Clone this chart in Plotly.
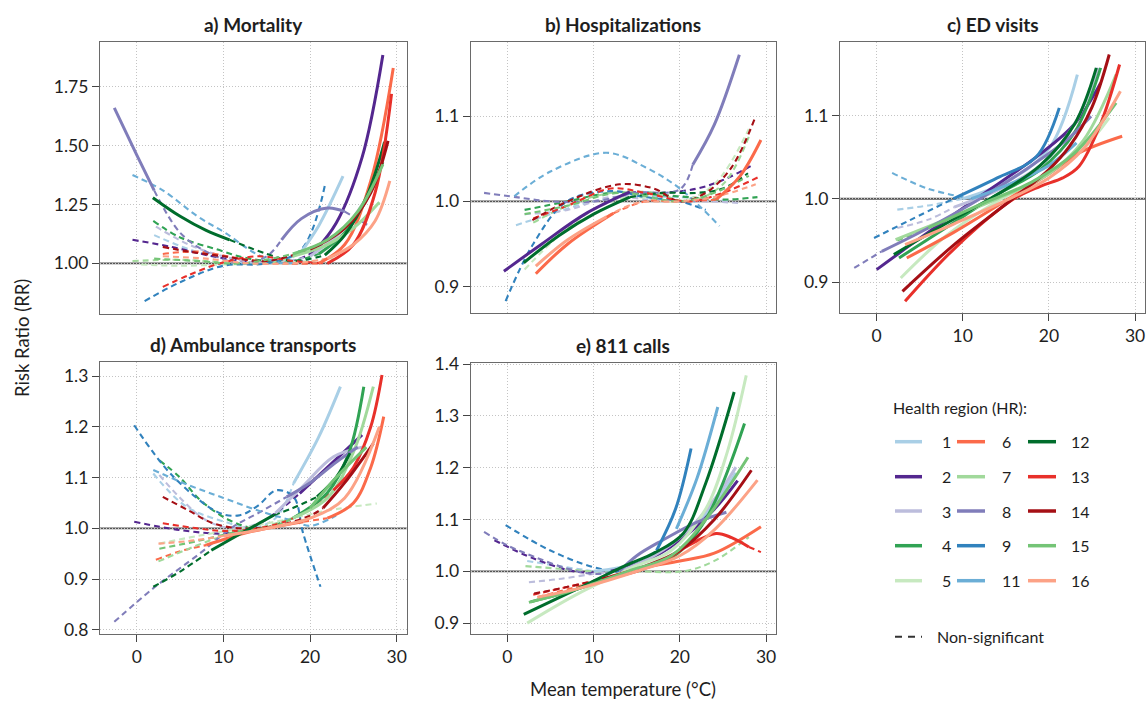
import plotly.graph_objects as go

W, H = 1146, 702

# ---------------- data ----------------
regions = [1, 2, 3, 4, 5, 6, 7, 8, 9, 11, 12, 13, 14, 15, 16]
region_colors = ["#a9cfe6", "#54278f", "#bcbddc", "#31a354", "#c7e9c0",
                 "#fb6a4a", "#a1d99b", "#807dba", "#3182bd", "#6baed6",
                 "#006d2c", "#e8302a", "#a50f15", "#74c476", "#fca286"]
panel_titles = ["a) Mortality", "b) Hospitalizations", "c) ED visits",
                "d) Ambulance transports", "e) 811 calls"]
x_ticks = [0, 10, 20, 30]
y_ticks_a = [1.00, 1.25, 1.50, 1.75]
y_ticks_b = [0.9, 1.0, 1.1]
y_ticks_c = [0.9, 1.0, 1.1]
y_ticks_d = [0.8, 0.9, 1.0, 1.1, 1.2, 1.3]
y_ticks_e = [0.9, 1.0, 1.1, 1.2, 1.3, 1.4]

# each region: list of segments (style, temperatures, risk ratios); "d" = non-significant
mortality = {
    1: [("d", [2, 6, 10, 15, 18.8], [1.12, 1.06, 1.02, 1.0, 1.04]),
        ("s", [18.8, 21, 23.8], [1.04, 1.16, 1.37])],
    2: [("d", [-0.5, 4, 8.8, 14, 18, 20.5], [1.10, 1.07, 1.03, 1.005, 1.01, 1.05]),
        ("s", [20.5, 23, 26, 28.4], [1.05, 1.17, 1.45, 1.885])],
    3: [("d", [2.2, 6, 10, 15, 20], [1.156, 1.08, 1.03, 1.0, 1.03]),
        ("s", [20, 24, 27.7], [1.03, 1.15, 1.35])],
    4: [("d", [1.9, 5, 9.2, 13, 18, 21], [1.18, 1.11, 1.06, 1.02, 1.01, 1.04]),
        ("s", [21, 24, 26.5, 28.4], [1.04, 1.13, 1.27, 1.43])],
    5: [("d", [0.5, 5, 10, 15, 20, 23], [0.995, 0.99, 0.995, 1.0, 1.01, 1.02])],
    6: [("d", [3, 7, 12, 17, 21], [1.04, 1.05, 1.02, 1.0, 1.0]),
        ("s", [21, 24, 27, 29.6], [1.0, 1.08, 1.35, 1.83])],
    7: [("d", [-0.5, 5, 10, 15, 18], [1.01, 1.015, 1.005, 1.0, 1.03]),
        ("s", [18, 22, 25, 28], [1.03, 1.08, 1.15, 1.26])],
    8: [("s", [-2.6, 0, 2], [1.66, 1.46, 1.31]),
        ("d", [2, 5, 8, 12, 15, 16.7], [1.31, 1.13, 1.05, 1.0, 1.03, 1.10]),
        ("s", [16.7, 19, 22, 24], [1.10, 1.19, 1.235, 1.22]),
        ("d", [24, 27], [1.22, 1.155])],
    9: [("d", [0.9, 5, 10, 15, 19, 21.7], [0.84, 0.92, 0.99, 1.0, 1.06, 1.33])],
    11: [("d", [-0.5, 3, 7, 10.3, 13.8, 17, 20], [1.375, 1.31, 1.2, 1.127, 1.04, 1.0, 1.02])],
    12: [("s", [1.85, 5, 8, 10.7], [1.279, 1.2, 1.14, 1.10]),
         ("d", [10.7, 15, 18, 21.7], [1.10, 1.04, 1.01, 1.035]),
         ("s", [21.7, 24, 26.5, 28.6], [1.035, 1.12, 1.28, 1.516])],
    13: [("d", [3, 6, 9.6, 14, 18, 22], [0.90, 0.95, 1.0, 1.03, 1.01, 1.0]),
         ("s", [22, 25, 27.5, 29.4], [1.0, 1.08, 1.3, 1.72])],
    14: [("d", [3, 6, 10, 15, 20], [1.07, 1.05, 1.03, 1.01, 1.06]),
         ("s", [20, 24, 27, 29], [1.06, 1.15, 1.3, 1.52])],
    15: [("d", [2, 7, 12, 18], [1.02, 1.01, 1.0, 1.04]),
         ("s", [18, 22, 25.5, 28.4], [1.04, 1.1, 1.22, 1.42])],
    16: [("d", [3, 8, 13, 18, 22], [1.03, 1.02, 1.0, 1.0, 1.02]),
         ("s", [22, 25, 27.5, 29.2], [1.02, 1.08, 1.18, 1.35])],
}

hospitalizations = {
    1: [("d", [1, 5, 10, 15, 20, 26], [0.972, 0.985, 1.0, 1.005, 1.005, 1.0])],
    2: [("s", [-0.4, 4, 9, 14.2], [0.918, 0.95, 0.985, 1.011]),
        ("d", [14.2, 18, 22, 25, 28.5], [1.011, 1.01, 1.015, 1.025, 1.043])],
    3: [("d", [2, 7, 12, 18, 23, 27], [0.985, 0.99, 1.005, 1.0, 1.0, 0.998])],
    4: [("d", [2, 7, 12, 17, 21, 25, 29], [0.99, 1.0, 1.01, 1.008, 1.005, 1.002, 1.005])],
    5: [("d", [2, 6, 10, 14, 20, 24, 28], [0.92, 0.96, 0.99, 1.005, 1.0, 1.02, 1.085])],
    6: [("s", [3.3, 7, 12.3], [0.915, 0.95, 0.986]),
        ("d", [12.3, 16, 20, 24.2], [0.986, 1.0, 1.0, 1.002]),
        ("s", [24.2, 27, 29.4], [1.002, 1.03, 1.072])],
    7: [("d", [3, 7, 12, 17, 21, 25, 28], [0.975, 0.995, 1.01, 1.01, 1.0, 1.02, 1.076])],
    8: [("d", [-2.7, 1, 5, 10, 15, 20, 21.5], [1.01, 1.005, 1.0, 1.0, 1.01, 1.014, 1.043]),
        ("s", [21.5, 24, 26.9], [1.043, 1.09, 1.172])],
    9: [("d", [-0.2, 3, 6.9, 12, 16, 20, 23], [0.883, 0.95, 1.0, 1.012, 1.005, 1.0, 0.99])],
    11: [("d", [0.8, 5, 11.5, 16, 20, 24.6], [1.006, 1.035, 1.057, 1.04, 1.015, 0.971])],
    12: [("s", [1.9, 6, 10, 14.2], [0.928, 0.96, 0.985, 1.005]),
         ("d", [14.2, 18, 22, 25, 27.9], [1.005, 1.01, 1.01, 1.015, 1.033])],
    13: [("d", [3, 7, 12, 16, 21, 25, 29.4], [0.98, 0.995, 1.015, 1.01, 1.0, 1.01, 1.03])],
    14: [("d", [2.9, 7, 13, 17, 20, 23, 26, 28.8], [0.978, 1.0, 1.02, 1.015, 1.0, 1.01, 1.04, 1.10])],
    15: [("d", [2, 7, 13, 20, 24, 28], [0.985, 0.995, 1.01, 1.0, 1.01, 1.03])],
    16: [("s", [3.3, 7, 11.5], [0.924, 0.955, 0.982]),
         ("d", [11.5, 15, 20, 24, 28.8], [0.982, 0.998, 1.0, 1.005, 1.02])],
}

ed_visits = {
    1: [("d", [2.4, 6, 10], [0.987, 0.992, 1.0]),
        ("s", [10, 15, 20, 23.3], [1.0, 1.02, 1.06, 1.149])],
    2: [("s", [0, 6, 12, 18.9, 23, 26], [0.915, 0.96, 1.003, 1.053, 1.09, 1.139])],
    3: [("d", [2.4, 6, 9], [0.965, 0.975, 0.99]),
        ("s", [9, 14, 19, 23, 25.7], [0.99, 1.01, 1.04, 1.09, 1.157])],
    4: [("s", [2.6, 8, 14, 19, 23, 26], [0.929, 0.965, 1.005, 1.035, 1.08, 1.157])],
    5: [("s", [2.8, 8, 14, 20, 24, 27], [0.905, 0.955, 0.997, 1.03, 1.06, 1.097])],
    6: [("s", [3.5, 9, 15.8, 20, 23.5, 28.5], [0.929, 0.96, 1.003, 1.03, 1.055, 1.075])],
    7: [("s", [2.2, 8, 14, 20, 24, 27.8], [0.951, 0.975, 1.0, 1.03, 1.07, 1.149])],
    8: [("d", [-2.6, 0.6], [0.917, 0.937]),
        ("s", [0.6, 6, 12, 18, 22, 24.9], [0.937, 0.965, 1.0, 1.04, 1.07, 1.099])],
    9: [("d", [-0.3, 4, 8.9], [0.953, 0.975, 1.0]),
        ("s", [8.9, 14, 18.5, 21.2], [1.0, 1.025, 1.05, 1.109])],
    11: [("d", [1.8, 6, 11], [1.031, 1.012, 1.0]),
         ("s", [11, 16, 20, 23.2], [1.0, 1.02, 1.04, 1.067])],
    12: [("s", [2, 8, 14, 19, 23, 25.5], [0.933, 0.97, 1.005, 1.04, 1.09, 1.157])],
    13: [("s", [3.3, 9, 15.8, 19, 21.6, 23.5, 26, 28.2],
          [0.877, 0.94, 0.999, 1.015, 1.025, 1.039, 1.09, 1.161])],
    14: [("s", [3, 9, 15.8, 20, 22.4, 25, 27], [0.889, 0.945, 1.0, 1.035, 1.063, 1.11, 1.173])],
    15: [("d", [2.4, 6], [0.95, 0.965]),
         ("s", [6, 12, 18, 23, 27.8], [0.965, 0.993, 1.02, 1.055, 1.115])],
    16: [("s", [3.3, 9, 15, 20, 24, 28.3], [0.945, 0.97, 0.998, 1.025, 1.06, 1.129])],
}

ambulance = {
    1: [("d", [1.9, 5.7, 10.7, 13, 16, 18.1], [1.108, 1.043, 1.01, 1.0, 1.02, 1.089]),
        ("s", [18.1, 21, 23.5], [1.089, 1.18, 1.279])],
    2: [("d", [-0.3, 4.9, 10, 13, 16, 18.8], [1.013, 0.997, 0.99, 1.0, 1.03, 1.069]),
        ("s", [18.8, 22, 26], [1.069, 1.12, 1.184])],
    3: [("d", [2.6, 5, 8, 11, 14, 16], [1.105, 1.06, 1.016, 1.0, 1.01, 1.03]),
        ("s", [16, 19, 22.7, 26], [1.03, 1.08, 1.141, 1.16])],
    4: [("d", [2.6, 5, 7.3, 10.7, 14, 18], [1.134, 1.1, 1.056, 1.016, 1.0, 1.02]),
        ("s", [18, 22, 24.5, 26.2], [1.02, 1.07, 1.15, 1.279])],
    5: [("d", [2.6, 7, 12, 18, 22, 27.7], [0.97, 0.985, 1.0, 1.02, 1.035, 1.049])],
    6: [("d", [2.2, 5, 8], [0.938, 0.955, 0.967]),
        ("s", [8, 12.3, 15, 19.2], [0.967, 0.99, 1.0, 1.013]),
        ("d", [19.2, 22], [1.013, 1.02]),
        ("s", [22, 25, 27, 28.5], [1.02, 1.05, 1.12, 1.22])],
    7: [("d", [2.5, 6, 10, 14, 18], [0.935, 0.96, 0.985, 1.0, 1.02]),
        ("s", [18, 22, 25, 27.3], [1.02, 1.06, 1.15, 1.279])],
    8: [("d", [-2.6, 1.9, 7.3, 11.1, 14, 17.3], [0.816, 0.882, 0.951, 1.003, 1.03, 1.062]),
        ("s", [17.3, 20, 23, 25.5], [1.062, 1.09, 1.13, 1.16])],
    9: [("d", [-0.3, 4.2, 9.6, 11.9, 14, 16.1, 18.1, 19.2, 21.2],
         [1.203, 1.102, 1.03, 1.026, 1.045, 1.075, 1.062, 0.99, 0.885])],
    11: [("d", [1.9, 6, 10, 14, 18, 20, 23], [1.115, 1.085, 1.06, 1.035, 1.015, 1.005, 1.025])],
    12: [("d", [1.9, 5, 8.6], [0.885, 0.915, 0.957]),
         ("s", [8.6, 12, 15.8], [0.957, 0.99, 1.026]),
         ("d", [15.8, 18, 20.8], [1.026, 1.04, 1.062]),
         ("s", [20.8, 23, 24.6], [1.062, 1.1, 1.148])],
    13: [("d", [3, 7, 10, 14, 18, 22.7], [1.01, 1.0, 0.995, 1.0, 1.02, 1.075]),
         ("s", [22.7, 25, 27, 28.3], [1.075, 1.12, 1.2, 1.302])],
    14: [("d", [3, 6, 8.8, 12, 16, 20, 21.5], [1.062, 1.035, 1.01, 1.0, 1.005, 1.025, 1.04]),
         ("s", [21.5, 24, 27.3], [1.04, 1.09, 1.167])],
    15: [("d", [2.6, 7, 12, 16, 20], [0.96, 0.975, 0.995, 1.005, 1.04]),
         ("s", [20, 23, 26.5], [1.04, 1.1, 1.16])],
    16: [("d", [2.5, 6, 10], [0.97, 0.975, 0.985]),
         ("s", [10, 15, 20, 24, 28], [0.985, 1.0, 1.02, 1.06, 1.2])],
}

calls_811 = {
    1: [("d", [2.3, 6, 10], [1.02, 1.01, 1.0]),
        ("s", [10, 15, 20, 24, 26.5], [1.0, 1.015, 1.06, 1.13, 1.19])],
    2: [("d", [-1.5, 3, 8.1, 12], [1.06, 1.025, 0.999, 1.0]),
        ("s", [12, 16, 20, 24, 26.7], [1.0, 1.02, 1.06, 1.12, 1.175])],
    3: [("d", [2.5, 6, 10, 13], [0.979, 0.985, 0.995, 1.0]),
        ("s", [13, 17, 21, 24.5, 26.5], [1.0, 1.03, 1.08, 1.15, 1.201])],
    4: [("s", [2.7, 8, 14, 19.2, 23, 27.5], [0.941, 0.965, 1.0, 1.028, 1.1, 1.285])],
    5: [("s", [2.3, 8, 14.6, 19, 23, 25.5, 27.7], [0.9, 0.955, 1.008, 1.04, 1.12, 1.23, 1.378])],
    6: [("d", [3.5, 8, 12], [0.95, 0.97, 0.99]),
        ("s", [12, 16, 20, 24, 29.4], [0.99, 1.008, 1.02, 1.035, 1.086])],
    7: [("d", [2.1, 6, 10, 15, 20.4, 24, 28], [1.01, 1.005, 1.0, 1.0, 1.0, 1.02, 1.066])],
    8: [("d", [-2.7, 0, 3.1, 7, 10, 13], [1.076, 1.05, 1.028, 1.005, 0.995, 1.0]),
        ("s", [13, 15, 18, 22, 25.4], [1.0, 1.03, 1.06, 1.095, 1.114])],
    9: [("d", [-0.2, 5, 10, 13, 15, 17.3], [1.089, 1.04, 1.008, 1.0, 1.01, 1.04]),
        ("s", [17.3, 19.5, 21.3], [1.04, 1.12, 1.237])],
    11: [("s", [19.6, 22, 24.4], [1.082, 1.18, 1.317])],
    12: [("s", [1.9, 8, 13.8, 17, 20.4, 23, 26.3], [0.917, 0.965, 1.012, 1.035, 1.073, 1.17, 1.346])],
    13: [("d", [3, 7, 11], [0.955, 0.97, 0.985]),
         ("s", [11, 15, 18.5, 21, 24.2, 26, 28], [0.985, 1.0, 1.024, 1.05, 1.073, 1.065, 1.047]),
         ("d", [28, 29.4], [1.047, 1.037])],
    14: [("d", [3.1, 7, 11], [0.957, 0.97, 0.985]),
         ("s", [11, 16, 20, 24, 28.3], [0.985, 1.01, 1.04, 1.1, 1.195])],
    15: [("s", [2.5, 8, 14, 19, 23, 27.9], [0.94, 0.965, 1.0, 1.03, 1.1, 1.22])],
    16: [("s", [3.5, 9, 15, 20, 24, 29], [0.95, 0.97, 1.0, 1.03, 1.08, 1.176])],
}

# ---------------- layout geometry (pixels) ----------------
FONT = "Lato, 'Source Sans Pro', 'Noto Sans', sans-serif"
panels = [
    dict(data=mortality, box=(100, 406.7, 42, 314), yr=(0.785, 1.94), yt=y_ticks_a, fmt=".2f", showx=False),
    dict(data=hospitalizations, box=(470.7, 776, 42, 313), yr=(0.869, 1.187), yt=y_ticks_b, fmt=".1f", showx=False),
    dict(data=ed_visits, box=(840, 1145, 42, 313), yr=(0.863, 1.188), yt=y_ticks_c, fmt=".1f", showx=True),
    dict(data=ambulance, box=(100, 406.7, 362.3, 634), yr=(0.792, 1.327), yt=y_ticks_d, fmt=".1f", showx=True),
    dict(data=calls_811, box=(470.7, 776, 362.7, 634), yr=(0.879, 1.4025), yt=y_ticks_e, fmt=".1f", showx=True),
]
XR = (-4.25, 31.15)

def fx(p):
    return p / W

def fy(p):
    return 1 - p / H

def text_annot(text, x, y, size=16, xanchor="center", **kw):
    return dict(text=text, x=fx(x), y=fy(y), xref="paper", yref="paper", showarrow=False,
                xanchor=xanchor, yanchor="middle",
                font=dict(size=size, color="#1e1e1e", family=FONT), **kw)

color_of = dict(zip(regions, region_colors))
fig = go.Figure()
layout = dict(width=W, height=H, margin=dict(l=0, r=0, t=0, b=0, autoexpand=False),
              paper_bgcolor="white", plot_bgcolor="white", showlegend=False,
              font=dict(family=FONT, size=17, color="#1e1e1e"))
shapes, annots = [], []

for i, p in enumerate(panels, start=1):
    sx = "" if i == 1 else str(i)
    x0, x1, y0, y1 = p["box"]
    axis_common = dict(showgrid=True, griddash="1px,2px", gridcolor="#c4c4c4", gridwidth=1,
                       showline=True, mirror=True, linecolor="#6a6a6a", linewidth=1.3,
                       zeroline=False, tickcolor="#444", ticklen=7, automargin=False,
                       tickfont=dict(size=17.5, color="#1e1e1e", family=FONT))
    layout["xaxis" + sx] = dict(axis_common, domain=[fx(x0), fx(x1)], range=list(XR),
                                tickvals=x_ticks, anchor="y" + sx,
                                ticks="outside" if p["showx"] else "",
                                showticklabels=p["showx"])
    layout["yaxis" + sx] = dict(axis_common, domain=[fy(y1), fy(y0)], range=list(p["yr"]),
                                tickvals=p["yt"], tickformat=p["fmt"], anchor="x" + sx,
                                ticks="outside")
    shapes.append(dict(type="line", xref="x" + sx + " domain", yref="y" + sx,
                       x0=0, x1=1, y0=1, y1=1, layer="below",
                       line=dict(color="#555555", width=1.8)))
    annots.append(text_annot("<b>" + panel_titles[i - 1] + "</b>", (x0 + x1) / 2, y0 - 17.5, size=19))
    # dashed first, solid on top
    for style in ("d", "s"):
        for r in regions:
            for seg in p["data"].get(r, []):
                if seg[0] != style:
                    continue
                fig.add_trace(go.Scatter(
                    x=seg[1], y=seg[2], mode="lines", xaxis="x" + sx, yaxis="y" + sx,
                    line=dict(color=color_of[r], shape="spline", smoothing=1.0,
                              width=3 if style == "s" else 2.1,
                              dash="solid" if style == "s" else "6px,4px"),
                    hoverinfo="skip"))

# axis titles
annots.append(text_annot("Risk Ratio (RR)", 22, 338, size=18.5, textangle=-90))
annots.append(text_annot("Mean temperature (°C)", 623, 689, size=18.5))

# legend
annots.append(text_annot("Health region (HR):", 891, 407, xanchor="left"))
col_x = [(895, 922, 940), (957, 985, 1000), (1028, 1056, 1069)]
row_y = [441.7, 476.7, 511, 545.7, 580.7]
for k, r in enumerate(regions):
    c, row = divmod(k, 5)
    lx0, lx1, tx = col_x[c]
    yy = row_y[row]
    shapes.append(dict(type="line", xref="paper", yref="paper", x0=fx(lx0), x1=fx(lx1),
                       y0=fy(yy), y1=fy(yy), line=dict(color=color_of[r], width=3.5)))
    annots.append(text_annot(str(r), tx, yy, xanchor="left"))
shapes.append(dict(type="line", xref="paper", yref="paper", x0=fx(895), x1=fx(922),
                   y0=fy(636.7), y1=fy(636.7), line=dict(color="#333", width=2, dash="7px,6px")))
annots.append(text_annot("Non-significant", 935, 636.7, xanchor="left"))

layout["shapes"] = shapes
layout["annotations"] = annots
fig.update_layout(**layout)
fig.write_html("out.html", config={"displayModeBar": False},
               post_script="document.body.style.margin='0px';")
